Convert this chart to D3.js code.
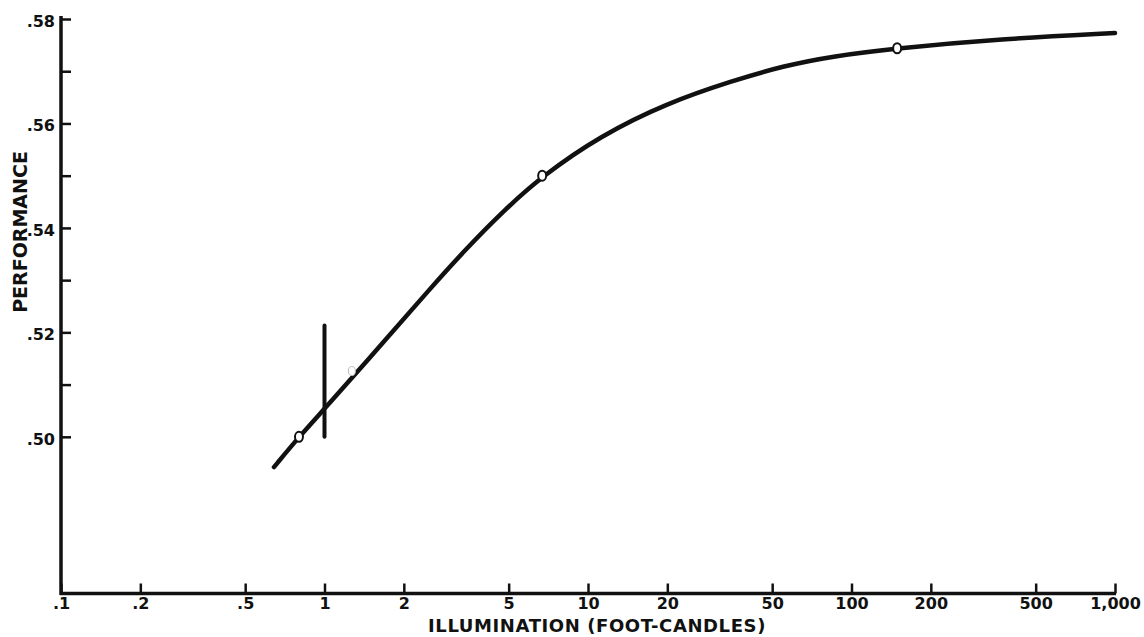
<!DOCTYPE html>
<html lang="en">
<head>
    <meta charset="UTF-8">
    <title>Performance vs Illumination</title>
    <script src="https://cdn.jsdelivr.net/npm/d3@7"></script>
    <style>
        body { margin: 0; background: #fff; }
        text { font-family: "DejaVu Sans", "Liberation Sans", sans-serif; font-weight: bold; fill: #111; }
    </style>
</head>
<body>
    <svg width="1144" height="637"></svg>
    <script>
        // fitted curve
        const curveX = [0.643, 0.8, 1.04, 1.70, 2.51, 3.36, 4.76, 6.69, 11.1, 19.9, 35.5, 55.0, 85.1, 148.8, 366, 1000];
        const curveY = [0.4942, 0.5000, 0.5063, 0.5185, 0.5283, 0.5354, 0.5432, 0.5499, 0.5576, 0.5639, 0.5682, 0.5710, 0.5729, 0.5744, 0.5762, 0.5773];

        // measured points (open markers)
        const pointX = [0.8, 6.7, 149];
        const pointY = [0.5000, 0.5500, 0.5744];
        // faint / damaged marker
        const faintX = [1.27];
        const faintY = [0.5126];

        // vertical bar at 1 foot-candle
        const barX = [1.0];
        const barLow = [0.5000];
        const barHigh = [0.5213];

        const xTicks = [0.1, 0.2, 0.5, 1, 2, 5, 10, 20, 50, 100, 200, 500, 1000];
        const xTickLabels = [".1", ".2", ".5", "1", "2", "5", "10", "20", "50", "100", "200", "500", "1,000"];
        const yTicks = [0.50, 0.51, 0.52, 0.53, 0.54, 0.55, 0.56, 0.57, 0.58];
        const yTickLabels = [".50", "", ".52", "", ".54", "", ".56", "", ".58"];

        const svg = d3.select("svg");

        const x = d3.scaleLog().domain([0.1, 1000]).range([61, 1115]);
        const y = d3.scaleLinear().domain([0.47, 0.58]).range([593.5, 19]);

        // x axis
        const xAxis = svg.append("g")
            .attr("transform", "translate(0," + y(0.47) + ")")
            .call(d3.axisBottom(x)
                .tickValues(xTicks)
                .tickSize(-10)
                .tickPadding(4.5)
                .tickFormat((d, i) => xTickLabels[i]));
        xAxis.select(".domain").remove();
        xAxis.selectAll("line").attr("stroke", "#111").attr("stroke-width", 2.5);
        xAxis.selectAll("text").style("font-size", "16px").attr("dy", "0.71em");
        svg.append("line")
            .attr("x1", x(0.1) - 1).attr("x2", x(1000) + 1)
            .attr("y1", y(0.47)).attr("y2", y(0.47))
            .attr("stroke", "#111").attr("stroke-width", 3.5);

        // y axis
        const yAxis = svg.append("g")
            .attr("transform", "translate(" + x(0.1) + ",0)")
            .call(d3.axisLeft(y)
                .tickValues(yTicks)
                .tickSize(-10)
                .tickPadding(6)
                .tickFormat((d, i) => yTickLabels[i]));
        yAxis.select(".domain").remove();
        yAxis.selectAll("line").attr("stroke", "#111").attr("stroke-width", 2.5);
        yAxis.selectAll("text").style("font-size", "16px").attr("dy", "0.45em");
        svg.append("line")
            .attr("x1", x(0.1)).attr("x2", x(0.1))
            .attr("y1", y(0.58) - 3).attr("y2", y(0.47) + 1.5)
            .attr("stroke", "#111").attr("stroke-width", 3.5);

        // axis titles
        svg.append("text")
            .attr("transform", "translate(27,232) rotate(-90)")
            .attr("text-anchor", "middle")
            .style("font-size", "19px")
            .text("PERFORMANCE");
        svg.append("text")
            .attr("x", 597).attr("y", 632)
            .attr("text-anchor", "middle")
            .style("font-size", "18px")
            .style("letter-spacing", "0.6px")
            .text("ILLUMINATION (FOOT-CANDLES)");

        // error bar
        svg.selectAll(".bar")
            .data(barX)
            .enter().append("line")
            .attr("class", "bar")
            .attr("x1", d => x(d)).attr("x2", d => x(d))
            .attr("y1", (d, i) => y(barLow[i]))
            .attr("y2", (d, i) => y(barHigh[i]))
            .attr("stroke", "#111").attr("stroke-width", 4)
            .attr("stroke-linecap", "round");

        // curve
        const line = d3.line()
            .x(d => x(d[0]))
            .y(d => y(d[1]))
            .curve(d3.curveBasis);
        svg.append("path")
            .datum(curveX.map((v, i) => [v, curveY[i]]))
            .attr("d", line)
            .attr("fill", "none")
            .attr("stroke", "#111")
            .attr("stroke-width", 4.5)
            .attr("stroke-linecap", "round");

        // markers
        svg.selectAll(".pt")
            .data(pointX.map((v, i) => [v, pointY[i]]))
            .enter().append("ellipse")
            .attr("class", "pt")
            .attr("cx", d => x(d[0])).attr("cy", d => y(d[1]))
            .attr("rx", 4).attr("ry", 5)
            .attr("fill", "#fff").attr("stroke", "#111").attr("stroke-width", 2);

        svg.selectAll(".faint")
            .data(faintX.map((v, i) => [v, faintY[i]]))
            .enter().append("ellipse")
            .attr("class", "faint")
            .attr("cx", d => x(d[0])).attr("cy", d => y(d[1]))
            .attr("rx", 3.5).attr("ry", 4.5)
            .attr("fill", "#fff").attr("stroke", "#bbb").attr("stroke-width", 1);
    </script>
</body>
</html>
